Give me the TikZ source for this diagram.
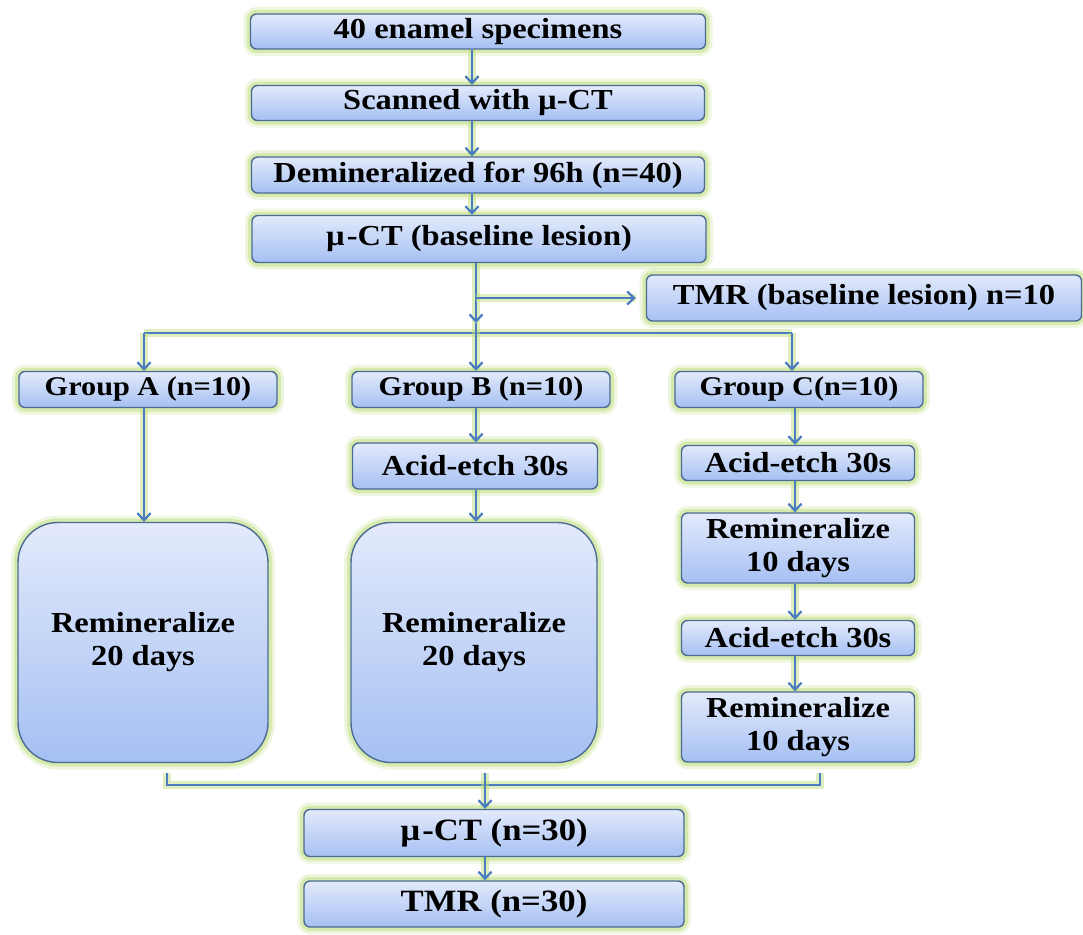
\documentclass[tikz,border=0pt]{standalone}
\usepackage{fontspec}
\newfontfamily\bx[FakeStretch=1.12]{Liberation Serif}
\usetikzlibrary{arrows.meta,calc}
\definecolor{boxtop}{HTML}{E3EAFB}
\definecolor{boxbot}{HTML}{A5C0F3}
\definecolor{boxline}{HTML}{4C6B94}
\definecolor{glow}{HTML}{BEDD7E}
\definecolor{lineblue}{HTML}{4A7CBF}
\begin{document}
\begin{tikzpicture}[x=1pt,y=-1pt,
  box/.style={rectangle, rounded corners=6pt, draw=boxline, line width=1.4pt,
    top color=boxtop, bottom color=boxbot, inner sep=0pt, align=center,
    font=\bx\bfseries\fontsize{29}{33}\selectfont, text=black,
    preaction={draw=glow, line width=14pt, opacity=0.25},
    preaction={draw=glow, line width=8pt, opacity=0.5}},
  bigbox/.style={box, rounded corners=40pt},
  grp/.style={box, font=\bx\bfseries\fontsize{27}{30}\selectfont},
  bot/.style={box, font=\bx\bfseries\fontsize{31}{34}\selectfont},
  conn/.style={draw=lineblue, line width=2.4pt,
    preaction={draw=glow, line width=8pt, opacity=0.5, -}},
  arr/.style={conn, -{Straight Barb[length=7pt,width=13pt,line width=2.2pt]}}
]
\useasboundingbox (0,0) rectangle (1083,934);

% nodes
\node[box, minimum width=455pt, minimum height=35pt] (b1) at (478,31.5) {40 enamel specimens};
\node[box, minimum width=453pt, minimum height=35pt] (b2) at (478,103) {Scanned with µ-CT};
\node[box, minimum width=453pt, minimum height=36pt] (b3) at (478,175) {Demineralized for 96h (n=40)};
\node[box, minimum width=454pt, minimum height=47pt] (b4) at (479,239) {µ\kern2pt-CT (baseline lesion)};
\node[box, minimum width=435pt, minimum height=46pt] (tmr) at (864,298) {TMR (baseline lesion) n=10};

\node[grp, minimum width=258pt, minimum height=36pt] (ga) at (148,389.5) {Group A (n=10)};
\node[grp, minimum width=258pt, minimum height=36pt] (gb) at (481,389.5) {Group B (n=10)};
\node[grp, minimum width=248pt, minimum height=36pt] (gc) at (799,389.5) {Group C(n=10)};

\node[box, minimum width=245pt, minimum height=46pt] (aeb) at (475,466) {Acid-etch 30s};
\node[bigbox, minimum width=250pt, minimum height=240pt] (ra) at (143,642.5) {Remineralize\\20 days};
\node[bigbox, minimum width=246pt, minimum height=240pt] (rb) at (474,642.5) {Remineralize\\20 days};

\node[box, minimum width=233pt, minimum height=35pt] (aec1) at (798,463) {Acid-etch 30s};
\node[box, minimum width=233pt, minimum height=70pt] (rc1) at (798,548) {Remineralize\\10 days};
\node[box, minimum width=233pt, minimum height=35pt] (aec2) at (798,638) {Acid-etch 30s};
\node[box, minimum width=233pt, minimum height=70pt] (rc2) at (798,727) {Remineralize\\10 days};

\node[bot, minimum width=380pt, minimum height=47pt] (ct30) at (494,833) {µ\kern2pt-CT (n=30)};
\node[bot, minimum width=380pt, minimum height=46pt] (tmr30) at (494,904) {TMR (n=30)};

% coordinates
\coordinate (colM) at (472,0);
\coordinate (split) at (476,298);
\coordinate (tee) at (476,333);
\coordinate (teeup) at (476,323);
\coordinate (brA) at (144,333);
\coordinate (brC) at (792,333);
\coordinate (colC) at (795,0);
\coordinate (mA) at (167,773);
\coordinate (mAL) at (167,785);
\coordinate (mC) at (820,773);
\coordinate (mCL) at (820,785);
\coordinate (mid) at (485,773);

% connectors
\draw[arr] (b1.south -| colM) -- (b2.north -| colM);
\draw[arr] (b2.south -| colM) -- (b3.north -| colM);
\draw[arr] (b3.south -| colM) -- (b4.north -| colM);
\draw[arr] (b4.south -| split) -- (teeup);
\draw[arr] (split) -- ([xshift=-10pt]tmr.west |- split);
\draw[conn] (brA) -- (brC);
\draw[conn] (teeup) -- (tee);
\draw[arr] (brA) -- (ga.north -| brA);
\draw[arr] (tee) -- (gb.north -| tee);
\draw[arr] (brC) -- (gc.north -| brC);

\draw[arr] (ga.south -| brA) -- (ra.north -| brA);
\draw[arr] (gb.south -| tee) -- (aeb.north -| tee);
\draw[arr] (aeb.south -| tee) -- (rb.north -| tee);

\draw[arr] (gc.south -| colC) -- (aec1.north -| colC);
\draw[arr] (aec1.south -| colC) -- (rc1.north -| colC);
\draw[arr] (rc1.south -| colC) -- (aec2.north -| colC);
\draw[arr] (aec2.south -| colC) -- (rc2.north -| colC);

\draw[conn] (mA) -- (mAL) -- (mCL) -- (mC);
\draw[arr] (mid) -- (ct30.north -| mid);
\draw[arr] (ct30.south -| mid) -- (tmr30.north -| mid);
\end{tikzpicture}
\end{document}
